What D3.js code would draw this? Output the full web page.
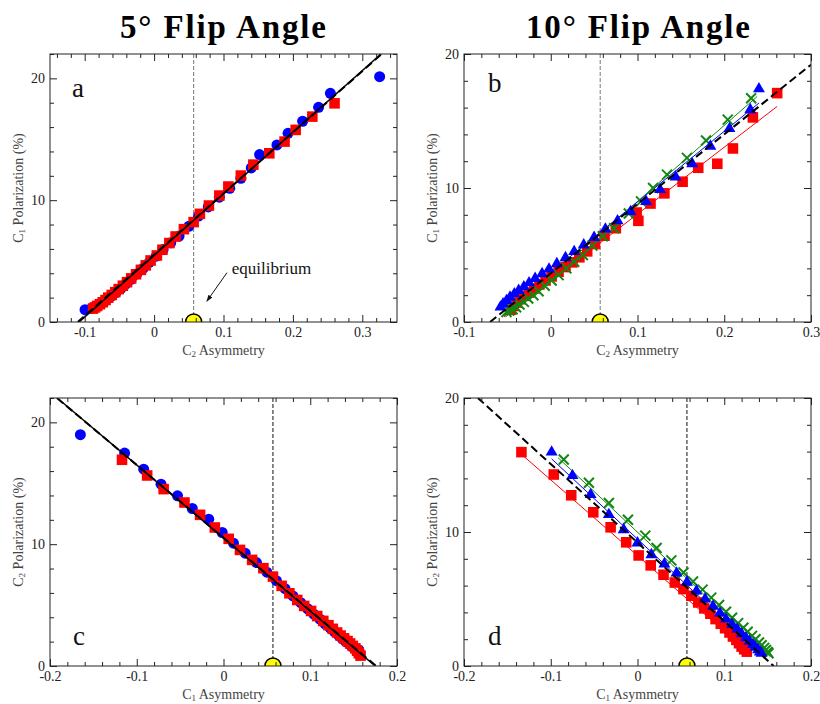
<!DOCTYPE html>
<html>
<head>
<meta charset="utf-8">
<script src="https://cdn.jsdelivr.net/npm/d3@7"></script>
<style>
  body { margin: 0; background: #fff; }
  svg { display: block; }
  text { font-family: "Liberation Serif", "DejaVu Serif", serif; }
</style>
</head>
<body>
<script>
var width = 820;
var height = 704;

// panel a : 5 deg, C1 polarization vs C2 asymmetry
var aBlueX = [0.325,0.254,0.237,0.214,0.193,0.177,0.152,0.140,0.125,0.109,0.094,0.078,0.064,0.050,0.036,0.024,0.013,0.003,-0.007,-0.016,-0.025,-0.033,-0.041,-0.048,-0.055,-0.061,-0.067,-0.072,-0.077,-0.082,-0.086,-0.090,-0.0995];
var aBlueY = [20.14,18.77,17.62,16.48,15.49,14.54,13.74,12.65,11.80,10.98,10.25,9.45,8.70,7.85,7.05,6.50,5.95,5.40,4.90,4.40,3.95,3.50,3.10,2.75,2.42,2.15,1.90,1.70,1.50,1.35,1.22,1.12,1.01];
var aRedX = [0.260,0.228,0.204,0.188,0.166,0.143,0.125,0.107,0.094,0.079,0.066,0.057,0.043,0.031,0.022,0.012,0.004,-0.005,-0.012,-0.019,-0.026,-0.033,-0.039,-0.045,-0.051,-0.056,-0.061,-0.066,-0.070,-0.074,-0.078,-0.082,-0.085,-0.088];
var aRedY = [17.95,16.86,15.77,14.81,13.85,12.92,12.02,11.12,10.38,9.56,8.88,8.20,7.62,7.02,6.48,5.93,5.46,5.05,4.65,4.28,3.92,3.58,3.27,2.98,2.70,2.45,2.22,2.00,1.80,1.62,1.46,1.32,1.20,1.10];
var aFitX = [-0.108, 0.327], aFitY = [0, 22];
var aTheoryX = [-0.110, 0.330], aTheoryY = [0, 22.1];

// panel b : 10 deg
var bRedX = [0.261,0.233,0.210,0.192,0.170,0.152,0.131,0.115,0.099,0.101,0.075,0.062,0.051,0.042,0.033,0.025,0.017,0.009,0.001,-0.006,-0.013,-0.019,-0.025,-0.030,-0.035,-0.039,-0.043,-0.046];
var bRedY = [17.08,15.27,12.95,11.81,11.51,10.47,9.60,8.84,8.17,7.55,7.00,6.44,5.82,5.27,4.83,4.45,4.10,3.75,3.40,3.10,2.80,2.50,2.20,1.95,1.70,1.45,1.20,0.92];
var bGreenX = [0.231,0.204,0.179,0.157,0.134,0.118,0.104,0.090,0.073,0.060,0.048,0.037,0.027,0.018,0.009,0.001,-0.007,-0.014,-0.020,-0.026,-0.031,-0.036,-0.040,-0.044,-0.048,-0.051];
var bGreenY = [16.7,15.1,13.54,12.25,11.0,10.0,9.0,8.1,7.0,6.4,5.7,5.0,4.5,4.0,3.5,3.1,2.7,2.3,2.0,1.75,1.5,1.3,1.1,0.95,0.85,0.75];
var bBlueX = [0.240,0.230,0.206,0.184,0.163,0.144,0.126,0.110,0.092,0.077,0.063,0.050,0.038,0.027,0.017,0.007,-0.002,-0.010,-0.018,-0.025,-0.031,-0.037,-0.042,-0.047,-0.051,-0.055,-0.058];
var bBlueY = [17.4,15.84,14.43,13.12,11.81,10.82,9.88,8.99,8.24,7.55,6.93,6.31,5.75,5.25,4.80,4.35,3.95,3.60,3.25,2.92,2.62,2.35,2.10,1.85,1.60,1.35,1.11];
var bRedFitX = [-0.054, 0.261], bRedFitY = [0.37, 16.09];
var bGreenFitX = [-0.052, 0.238], bGreenFitY = [0.37, 16.83];
var bBlueFitX = [-0.056, 0.240], bBlueFitY = [0.74, 16.34];
var bTheoryX = [-0.070, 0.300], bTheoryY = [0, 19.2];

// panel c : 5 deg, C2 polarization vs C1 asymmetry
var cBlueX = [-0.165,-0.114,-0.092,-0.072,-0.053,-0.036,-0.017,-0.0015,0.0115,0.025,0.038,0.050,0.061,0.071,0.080,0.089,0.097,0.104,0.111,0.117,0.123,0.128,0.133,0.137,0.141,0.145,0.148,0.151,0.154,0.156];
var cBlueY = [18.99,17.48,16.16,14.93,13.97,12.93,12.05,10.96,10.08,9.26,8.49,7.70,7.00,6.35,5.75,5.20,4.70,4.25,3.85,3.45,3.10,2.80,2.50,2.25,2.00,1.80,1.60,1.45,1.35,1.32];
var cRedX = [-0.117,-0.088,-0.069,-0.045,-0.027,-0.010,0.006,0.019,0.033,0.046,0.057,0.067,0.076,0.085,0.093,0.101,0.108,0.115,0.121,0.126,0.131,0.135,0.139,0.143,0.146,0.149,0.152,0.154,0.156,0.158];
var cRedY = [16.93,15.64,14.52,13.42,12.41,11.37,10.44,9.53,8.71,8.03,7.34,6.58,5.97,5.42,4.93,4.52,4.10,3.70,3.35,3.05,2.75,2.50,2.27,2.05,1.85,1.65,1.45,1.25,1.05,0.85];
var cFitX = [-0.190, 0.175], cFitY = [21.9, 0];
var cTheoryX = [-0.192, 0.176], cTheoryY = [22, 0];

// panel d : 10 deg
var dRedX = [-0.1338,-0.0965,-0.0764,-0.051,-0.031,-0.013,0.0013,0.0152,0.030,0.043,0.053,0.062,0.070,0.077,0.084,0.090,0.096,0.101,0.106,0.110,0.114,0.117,0.120,0.123,0.126];
var dRedY = [15.96,14.29,12.74,11.47,10.35,9.23,8.25,7.51,6.81,6.23,5.74,5.24,4.74,4.30,3.90,3.50,3.15,2.82,2.50,2.20,1.95,1.70,1.45,1.25,1.07];
var dBlueX = [-0.099,-0.075,-0.054,-0.033,-0.016,0.000,0.016,0.031,0.045,0.057,0.068,0.078,0.087,0.095,0.102,0.109,0.115,0.120,0.125,0.129,0.133,0.136,0.139,0.141,0.143];
var dBlueY = [15.96,14.21,12.79,11.30,10.17,9.18,8.30,7.61,6.93,6.25,5.60,5.00,4.45,3.95,3.50,3.10,2.75,2.40,2.10,1.85,1.60,1.40,1.20,1.05,0.95];
var dGreenX = [-0.085,-0.056,-0.033,-0.011,0.009,0.022,0.039,0.053,0.064,0.075,0.085,0.094,0.102,0.109,0.116,0.122,0.127,0.132,0.136,0.140,0.143,0.146,0.148,0.150,0.151];
var dGreenY = [15.41,13.67,12.17,10.92,9.73,8.80,7.88,6.98,6.31,5.70,5.10,4.55,4.05,3.60,3.20,2.85,2.55,2.25,2.00,1.75,1.55,1.35,1.20,1.05,0.95];
var dRedFitX = [-0.132, 0.128], dRedFitY = [15.7, 1.0];
var dBlueFitX = [-0.099, 0.143], dBlueFitY = [15.46, 0.82];
var dGreenFitX = [-0.0915, 0.153], dGreenFitY = [15.54, 0.70];
var dTheoryX = [-0.184, 0.157], dTheoryY = [20, 0];

var equilibrium = 0.057;

function pts(xs, ys) { return xs.map((x, i) => ({x: x, y: ys[i]})); }

var svg = d3.select("body").append("svg")
    .attr("width", width)
    .attr("height", height);

svg.append("text").attr("x", 223).attr("y", 38).attr("text-anchor", "middle")
    .attr("font-size", 33).attr("font-weight", "bold")
    .attr("textLength", 206).attr("lengthAdjust", "spacing")
    .text("5° Flip Angle");
svg.append("text").attr("x", 638).attr("y", 38).attr("text-anchor", "middle")
    .attr("font-size", 33).attr("font-weight", "bold")
    .attr("textLength", 224).attr("lengthAdjust", "spacing")
    .text("10° Flip Angle");

var panels = [
    {id: "a", left: 50, top: 54, right: 397, bottom: 322, xd: [-0.15, 0.35], yd: [0, 22],
     xsub: "2", ysub: "1", eqColor: "#777", labelPos: [72, 97],
     series: [
        {data: pts(aBlueX, aBlueY), shape: "circle", color: "#0000ff"},
        {data: pts(aRedX, aRedY), shape: "square", color: "#ff0000"}],
     fits: [],
     black: [{x: aFitX, y: aFitY, dash: null}, {x: aTheoryX, y: aTheoryY, dash: "8,4"}]},
    {id: "b", left: 464, top: 54, right: 811, bottom: 322, xd: [-0.1, 0.3], yd: [0, 20],
     xsub: "2", ysub: "1", eqColor: "#777", labelPos: [488, 92],
     series: [
        {data: pts(bRedX, bRedY), shape: "square", color: "#ff0000"},
        {data: pts(bGreenX, bGreenY), shape: "x", color: "#118811"},
        {data: pts(bBlueX, bBlueY), shape: "triangle", color: "#0000ff"}],
     fits: [{x: bRedFitX, y: bRedFitY, color: "#ff0000"},
            {x: bGreenFitX, y: bGreenFitY, color: "#118811"},
            {x: bBlueFitX, y: bBlueFitY, color: "#0000ff"}],
     black: [{x: bTheoryX, y: bTheoryY, dash: "8,4"}]},
    {id: "c", left: 50, top: 398, right: 397, bottom: 666, xd: [-0.2, 0.2], yd: [0, 22],
     xsub: "1", ysub: "2", eqColor: "#111", labelPos: [73, 645],
     series: [
        {data: pts(cBlueX, cBlueY), shape: "circle", color: "#0000ff"},
        {data: pts(cRedX, cRedY), shape: "square", color: "#ff0000"}],
     fits: [],
     black: [{x: cFitX, y: cFitY, dash: null}, {x: cTheoryX, y: cTheoryY, dash: "8,4"}]},
    {id: "d", left: 464, top: 398, right: 811, bottom: 666, xd: [-0.2, 0.2], yd: [0, 20],
     xsub: "1", ysub: "2", eqColor: "#111", labelPos: [488, 645],
     series: [
        {data: pts(dRedX, dRedY), shape: "square", color: "#ff0000"},
        {data: pts(dGreenX, dGreenY), shape: "x", color: "#118811"},
        {data: pts(dBlueX, dBlueY), shape: "triangle", color: "#0000ff"}],
     fits: [{x: dRedFitX, y: dRedFitY, color: "#ff0000"},
            {x: dGreenFitX, y: dGreenFitY, color: "#118811"},
            {x: dBlueFitX, y: dBlueFitY, color: "#0000ff"}],
     black: [{x: dTheoryX, y: dTheoryY, dash: "8,4"}]}
];

var fmt = (d) => String(Math.round(d * 10) / 10);

panels.forEach(function(p) {
    var x = d3.scaleLinear().domain(p.xd).range([p.left, p.right]);
    var y = d3.scaleLinear().domain(p.yd).range([p.bottom, p.top]);
    var g = svg.append("g");

    g.append("clipPath").attr("id", "clip-" + p.id)
        .append("rect")
        .attr("x", p.left).attr("y", p.top)
        .attr("width", p.right - p.left).attr("height", p.bottom - p.top);

    var plot = g.append("g").attr("clip-path", "url(#clip-" + p.id + ")");

    // equilibrium marker
    plot.append("line")
        .attr("x1", x(equilibrium)).attr("x2", x(equilibrium))
        .attr("y1", y(p.yd[1])).attr("y2", y(0))
        .attr("stroke", p.eqColor).attr("stroke-width", 1)
        .attr("stroke-dasharray", "4,2");

    var line = d3.line().x((d) => x(d[0])).y((d) => y(d[1]));

    p.fits.forEach(function(f) {
        plot.append("path")
            .attr("d", line(d3.zip(f.x, f.y)))
            .attr("fill", "none").attr("stroke", f.color).attr("stroke-width", 1);
    });

    p.series.forEach(function(s) {
        var sel = plot.append("g").selectAll("path")
            .data(s.data)
            .enter().append("path")
            .attr("transform", (d) => `translate(${x(d.x)},${y(d.y)})`);
        if (s.shape === "x") {
            sel.attr("d", "M-5,-5L5,5M-5,5L5,-5")
                .attr("fill", "none").attr("stroke", s.color).attr("stroke-width", 2);
        } else {
            var type = {circle: d3.symbolCircle, square: d3.symbolSquare, triangle: d3.symbolTriangle}[s.shape];
            var size = {circle: 95, square: 112, triangle: 62}[s.shape];
            sel.attr("d", d3.symbol().type(type).size(size)())
                .attr("fill", s.color);
        }
    });

    p.black.forEach(function(f) {
        plot.append("path")
            .attr("d", line(d3.zip(f.x, f.y)))
            .attr("fill", "none").attr("stroke", "#000")
            .attr("stroke-width", f.dash ? 2 : 1.5)
            .attr("stroke-dasharray", f.dash);
    });

    plot.append("circle")
        .attr("cx", x(equilibrium)).attr("cy", y(0)).attr("r", 8)
        .attr("fill", "#ffff00").attr("stroke", "#000").attr("stroke-width", 1.5);

    // axes, ticks pointing inward on all four sides
    var xMajor = x.ticks(p.xd[1] - p.xd[0] > 0.45 ? 5 : 4);
    var xMinor = x.ticks(Math.round((p.xd[1] - p.xd[0]) / 0.02));
    var yMajor = [0, 10, 20];
    var yMinor = d3.range(0, p.yd[1] + 0.01, 2);

    function addAxis(axisFn, scale, major, minor, pos, labels) {
        var a1 = g.append("g").attr("transform", pos)
            .call(axisFn(scale).tickValues(minor.filter((v) => major.every((m) => Math.abs(m - v) > 1e-9)))
                .tickSize(-4).tickFormat(""));
        var a2 = g.append("g").attr("transform", pos)
            .call(axisFn(scale).tickValues(major).tickSize(-7).tickPadding(labels ? 5 : 0)
                .tickFormat(labels ? fmt : ""));
        [a1, a2].forEach((a) => {
            a.select(".domain").remove();
            a.selectAll("line").attr("stroke", "#222");
        });
        a2.selectAll("text").attr("font-family", "Liberation Serif, serif")
            .attr("font-size", 14).attr("fill", "#222");
    }
    addAxis(d3.axisBottom, x, xMajor, xMinor, `translate(0,${p.bottom})`, true);
    addAxis(d3.axisTop, x, xMajor, xMinor, `translate(0,${p.top})`, false);
    addAxis(d3.axisLeft, y, yMajor, yMinor, `translate(${p.left},0)`, true);
    addAxis(d3.axisRight, y, yMajor, yMinor, `translate(${p.right},0)`, false);

    g.append("rect")
        .attr("x", p.left).attr("y", p.top)
        .attr("width", p.right - p.left).attr("height", p.bottom - p.top)
        .attr("fill", "none").attr("stroke", "#222").attr("stroke-width", 1);

    // axis titles
    var xt = g.append("text")
        .attr("x", (p.left + p.right) / 2).attr("y", p.bottom + 33)
        .attr("text-anchor", "middle").attr("font-size", 14).attr("fill", "#444");
    xt.append("tspan").text("C");
    xt.append("tspan").attr("font-size", 9).attr("dy", 2).text(p.xsub);
    xt.append("tspan").attr("dy", -2).text(" Asymmetry");

    var cy = (p.top + p.bottom) / 2;
    var yt = g.append("text")
        .attr("transform", `translate(${p.left - 27},${cy}) rotate(-90)`)
        .attr("text-anchor", "middle").attr("font-size", 14).attr("fill", "#444");
    yt.append("tspan").text("C");
    yt.append("tspan").attr("font-size", 9).attr("dy", 2).text(p.ysub);
    yt.append("tspan").attr("dy", -2).text(" Polarization (%)");

    g.append("text")
        .attr("x", p.labelPos[0]).attr("y", p.labelPos[1])
        .attr("font-size", 27).attr("fill", "#111")
        .text(p.id);

    if (p.id === "a") {
        g.append("defs").append("marker")
            .attr("id", "arrow").attr("viewBox", "0 0 10 10")
            .attr("refX", 9).attr("refY", 5)
            .attr("markerWidth", 7).attr("markerHeight", 7)
            .attr("orient", "auto")
            .append("path").attr("d", "M0,1.5L10,5L0,8.5z").attr("fill", "#111");
        g.append("line")
            .attr("x1", x(0.105)).attr("y1", y(4.05))
            .attr("x2", x(0.076)).attr("y2", y(1.7))
            .attr("stroke", "#111").attr("stroke-width", 1)
            .attr("marker-end", "url(#arrow)");
        g.append("text")
            .attr("x", x(0.112)).attr("y", y(3.93))
            .attr("font-size", 17).attr("fill", "#111")
            .text("equilibrium");
    }
});
</script>
</body>
</html>
